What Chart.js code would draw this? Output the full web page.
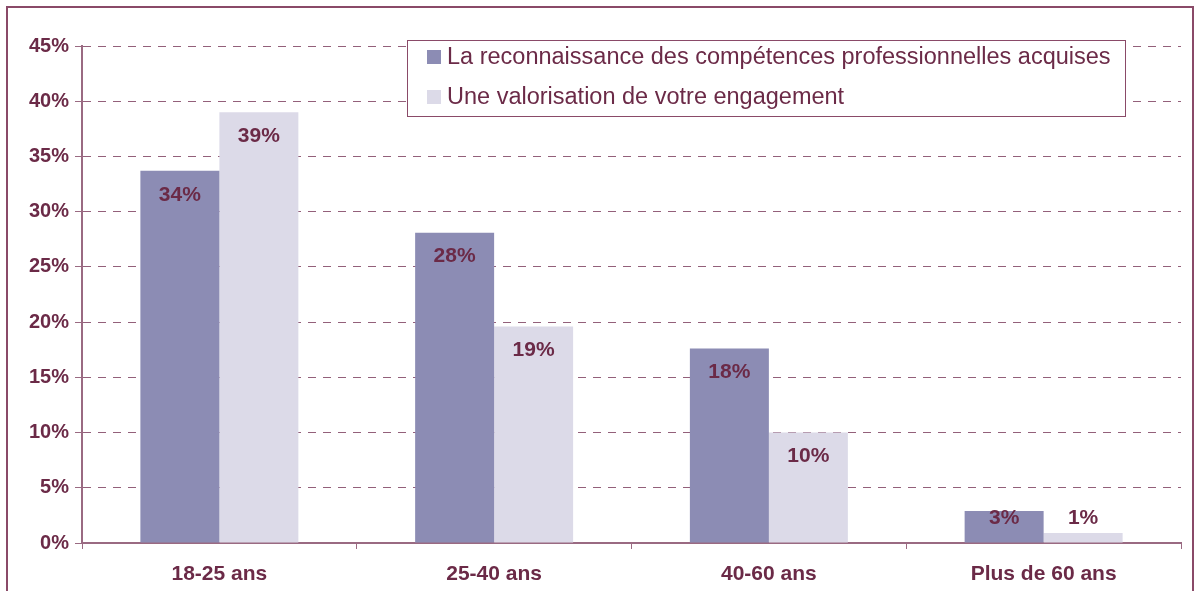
<!DOCTYPE html>
<html>
<head>
<meta charset="utf-8">
<script src="https://cdn.jsdelivr.net/npm/chart.js@4"></script>
<style>
  html, body { margin: 0; padding: 0; background: #fff; }
  #frame {
    position: absolute; left: 6px; top: 6px; width: 1188px; height: 620px;
    border: 2px solid #8a4a68; box-sizing: border-box;
  }
  #wrap { position: absolute; left: 0; top: 0; width: 1196px; height: 591px; }
</style>
</head>
<body>
<div id="frame"></div>
<div id="wrap"><canvas id="chart"></canvas></div>
<script>
const categories = ['18-25 ans', '25-40 ans', '40-60 ans', 'Plus de 60 ans'];
const seriesNames = [
  'La reconnaissance des compétences professionnelles acquises',
  'Une valorisation de votre engagement'
];
const reconnaissance = [33.7, 28.1, 17.6, 2.9];
const valorisation = [39.0, 19.6, 10.0, 0.9];
const reconnaissanceLabels = ['34%', '28%', '18%', '3%'];
const valorisationLabels = ['39%', '19%', '10%', '1%'];
const yTicks = [0, 5, 10, 15, 20, 25, 30, 35, 40, 45];

const TEXT = '#6b2a47';
const AXIS = '#9a6a82';
const FONT = '"Liberation Sans", Arial, sans-serif';

// value labels inside the top of each bar
const barLabels = {
  id: 'barLabels',
  afterDatasetsDraw(chart) {
    const ctx = chart.ctx;
    const base = chart.scales.y.getPixelForValue(0);
    ctx.save();
    ctx.font = 'bold 21px ' + FONT;
    ctx.fillStyle = TEXT;
    ctx.textAlign = 'center';
    ctx.textBaseline = 'middle';
    chart.data.datasets.forEach((ds, i) => {
      chart.getDatasetMeta(i).data.forEach((bar, j) => {
        const y = Math.min(bar.y + 24, base - 25);
        ctx.fillText(ds.valueLabels[j], bar.x, y);
      });
    });
    ctx.restore();
  }
};

// boxed legend drawn inside the plot area
const boxLegend = {
  id: 'boxLegend',
  afterDraw(chart) {
    const ctx = chart.ctx;
    const x = 407, y = 40, w = 718, h = 76;
    ctx.save();
    ctx.fillStyle = '#fff';
    ctx.fillRect(x, y, w, h);
    ctx.strokeStyle = '#8a4a68';
    ctx.lineWidth = 1;
    ctx.strokeRect(x + 0.5, y + 0.5, w, h);
    ctx.font = '23.5px ' + FONT;
    ctx.textBaseline = 'middle';
    chart.data.datasets.forEach((ds, i) => {
      const cy = y + 17 + i * 40;
      ctx.fillStyle = ds.backgroundColor;
      ctx.fillRect(x + 20, cy - 7, 14, 14);
      ctx.fillStyle = TEXT;
      ctx.fillText(ds.label, x + 40, cy + 1);
    });
    ctx.restore();
  }
};

new Chart(document.getElementById('chart'), {
  type: 'bar',
  data: {
    labels: categories,
    datasets: [
      { label: seriesNames[0], data: reconnaissance, valueLabels: reconnaissanceLabels, backgroundColor: '#8c8cb4' },
      { label: seriesNames[1], data: valorisation, valueLabels: valorisationLabels, backgroundColor: '#dcdae8' }
    ]
  },
  options: {
    responsive: true,
    maintainAspectRatio: false,
    animation: false,
    layout: { padding: { top: 46, right: 15, left: 0, bottom: 0 } },
    datasets: { bar: { categoryPercentage: 0.575, barPercentage: 1.0 } },
    plugins: { legend: { display: false }, tooltip: { enabled: false } },
    scales: {
      x: {
        afterFit(s) { s.height = 48; },
        grid: { offset: true, drawOnChartArea: false, drawTicks: true, tickLength: 6, color: AXIS },
        border: { color: AXIS, width: 2 },
        ticks: { color: TEXT, font: { family: FONT, size: 21, weight: 'bold' }, padding: 13 }
      },
      y: {
        min: 0, max: 45,
        afterFit(s) { s.width = 82; },
        afterBuildTicks(s) { s.ticks = yTicks.map(v => ({ value: v })); },
        grid: { color: '#93607a', lineWidth: 1, tickLength: 7, tickBorderDash: [], tickColor: AXIS },
        border: { color: AXIS, width: 2, dash: [8, 7] },
        ticks: { color: TEXT, font: { family: FONT, size: 20, weight: 'bold' }, padding: 6,
                 callback: v => v + '%' }
      }
    }
  },
  plugins: [barLabels, boxLegend]
});
</script>
</body>
</html>
